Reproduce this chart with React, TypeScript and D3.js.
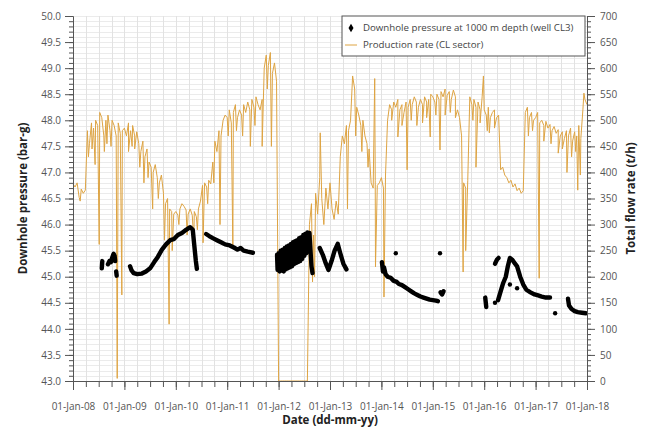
import React, { useRef, useEffect } from "react";
import * as d3 from "d3";

const W = 650;
const H = 430;
const margin = { top: 16, right: 63, bottom: 49, left: 73 };
const FONT = "'Open Sans', 'Noto Sans', sans-serif";

// Production rate (t/h), one value every 0.04 yr from 1 Jan of each year
const rate2008 = [378, 372, 380, 352, 368, 360, 366, 480, 455, 495, 485, 500, 490, 515, 505, 470, 500, 510, 480, 500, 490, 470, 495, 475, 480];
const rate2009 = [485, 470, 495, 480, 490, 470, 478, 455, 440, 460, 430, 445, 420, 410, 400, 415, 390, 380, 395, 360, 340, 350, 330, 325, 320];
const rate2010 = [325, 318, 330, 340, 335, 328, 320, 330, 318, 325, 315, 330, 345, 375, 380, 372, 385, 378, 420, 460, 440, 480, 470, 500, 510];
const rate2011 = [505, 520, 495, 515, 530, 505, 520, 510, 530, 515, 535, 520, 540, 525, 545, 530, 520, 540, 600, 625, 605, 630, 590, 610, 575];
const rate2012 = [0, 0, 0, 0, 0, 0, 0, 0, 0, 0, 0, 0, 0, 0, 0, 300, 340, 280, 360, 320, 390, 350, 300, 370, 330];
const rate2013 = [380, 330, 310, 345, 320, 430, 470, 455, 490, 480, 500, 585, 560, 525, 510, 490, 500, 470, 455, 445, 380, 370, 385, 375, 380];
const rate2014 = [390, 370, 395, 500, 530, 520, 535, 525, 540, 520, 530, 515, 535, 525, 540, 530, 545, 535, 525, 540, 530, 545, 535, 540, 550];
const rate2015 = [545, 535, 550, 540, 555, 545, 560, 548, 555, 540, 558, 545, 520, 505, 470, 380, 370, 385, 545, 530, 540, 525, 535, 520, 545];
const rate2016 = [520, 510, 525, 505, 515, 520, 505, 510, 405, 410, 395, 390, 380, 385, 372, 378, 365, 370, 360, 365, 515, 525, 505, 515, 500];
const rate2017 = [505, 515, 495, 500, 490, 498, 485, 492, 480, 488, 475, 482, 470, 478, 465, 480, 470, 485, 460, 478, 470, 490, 465, 520, 540];
const rateEnd: [number, number] = [2018.0, 530];

// single-day drops / peaks of the production rate [decimal year, t/h]
const rateSpikes: [number, number][] = [
  [2008.14, 345], [2008.43, 415], [2008.51, 262], [2008.61, 440], [2008.86, 5], [2008.95, 165],
  [2009.08, 440], [2009.38, 380], [2009.55, 330], [2009.78, 270], [2009.87, 109], [2009.93, 250],
  [2010.22, 280], [2010.35, 270], [2010.53, 265], [2010.86, 300],
  [2011.11, 257], [2011.45, 450], [2011.68, 450], [2011.86, 450],
  [2012.66, 190], [2012.7, 200], [2012.81, 476],
  [2013.34, 330], [2013.87, 580], [2013.885, 219], [2014.05, 161],
  [2014.32, 468], [2014.5, 405], [2014.69, 490], [2014.95, 468],
  [2015.14, 443], [2015.24, 510], [2015.59, 209], [2015.64, 250], [2015.84, 410], [2015.985, 585],
  [2016.1, 476], [2017.07, 197], [2017.44, 437], [2017.61, 400], [2017.82, 366], [2017.87, 395], [2017.94, 552],
];

// smaller day-to-day dips [decimal year, t/h]
const rateDips: [number, number][] = [
  [2008.3, 430], [2008.37, 445], [2008.66, 455], [2008.74, 450],
  [2009.15, 450], [2009.2, 445], [2009.3, 410], [2009.46, 390], [2009.66, 350],
  [2010.06, 300], [2010.42, 290], [2010.62, 340], [2010.74, 380],
  [2011.02, 470], [2011.18, 480], [2011.3, 470], [2011.54, 490], [2011.78, 560],
  [2013.5, 470], [2013.62, 440], [2013.74, 410],
  [2014.2, 500], [2014.4, 490], [2014.58, 500], [2014.8, 495], [2014.88, 505],
  [2015.06, 510], [2015.34, 515], [2015.44, 505], [2015.78, 500], [2015.92, 495],
  [2016.06, 480], [2016.2, 485], [2016.86, 470], [2016.94, 480],
  [2017.16, 460], [2017.3, 455], [2017.52, 445], [2017.7, 430], [2017.78, 440],
];

// Downhole pressure (bar-g), runs of readings [decimal year, bar-g]
const pressA: [number, number][] = [[2008.56, 45.16], [2008.57, 45.3]];
const pressB: [number, number][] = [[2008.68, 45.24], [2008.71, 45.3], [2008.74, 45.28], [2008.76, 45.36], [2008.79, 45.44], [2008.81, 45.4], [2008.82, 45.3]];
const pressB2: [number, number][] = [[2008.84, 45.1], [2008.85, 45.02]];
const pressC: [number, number][] = [
  [2009.11, 45.2], [2009.14, 45.12], [2009.18, 45.07], [2009.25, 45.05], [2009.34, 45.06], [2009.42, 45.1],
  [2009.5, 45.16], [2009.58, 45.28], [2009.65, 45.38], [2009.73, 45.52], [2009.81, 45.62], [2009.89, 45.7],
  [2009.96, 45.72], [2010.04, 45.8], [2010.12, 45.84], [2010.2, 45.9], [2010.28, 45.95], [2010.33, 45.9],
  [2010.36, 45.6], [2010.39, 45.3], [2010.41, 45.15],
];
const pressD: [number, number][] = [
  [2010.59, 45.82], [2010.65, 45.78], [2010.72, 45.74], [2010.8, 45.7], [2010.88, 45.66], [2010.96, 45.62],
  [2011.05, 45.6], [2011.13, 45.56], [2011.2, 45.52], [2011.26, 45.55], [2011.32, 45.5], [2011.4, 45.48], [2011.5, 45.46],
];
const pressE: [number, number][] = [
  [2011.97, 45.42], [2011.98, 45.13], [2012.0, 45.45], [2012.02, 45.1], [2012.04, 45.5], [2012.06, 45.12],
  [2012.08, 45.52], [2012.1, 45.1], [2012.12, 45.55], [2012.14, 45.14], [2012.16, 45.58], [2012.18, 45.16],
  [2012.2, 45.6], [2012.22, 45.18], [2012.24, 45.63], [2012.26, 45.2], [2012.28, 45.66], [2012.3, 45.24],
  [2012.32, 45.68], [2012.34, 45.26], [2012.36, 45.7], [2012.38, 45.28], [2012.4, 45.74], [2012.42, 45.3],
  [2012.44, 45.76], [2012.46, 45.34], [2012.48, 45.8], [2012.5, 45.4], [2012.52, 45.82], [2012.54, 45.45],
  [2012.56, 45.85], [2012.58, 45.5], [2012.6, 45.84], [2012.62, 45.5], [2012.64, 45.2], [2012.66, 45.07],
];
const pressF: [number, number][] = [
  [2012.8, 45.55], [2012.86, 45.42], [2012.92, 45.25], [2012.97, 45.13], [2013.03, 45.3], [2013.09, 45.5],
  [2013.15, 45.63], [2013.2, 45.45], [2013.26, 45.25], [2013.32, 45.14],
];
const pressG: [number, number][] = [
  [2014.01, 45.28], [2014.03, 45.1], [2014.05, 45.18], [2014.08, 45.05], [2014.12, 45.0], [2014.18, 44.98],
  [2014.24, 44.92], [2014.3, 44.9], [2014.34, 44.86], [2014.4, 44.84], [2014.46, 44.8], [2014.52, 44.76],
  [2014.58, 44.72], [2014.64, 44.68], [2014.7, 44.65], [2014.76, 44.62], [2014.82, 44.6], [2014.88, 44.58],
  [2014.94, 44.56], [2015.0, 44.55], [2015.06, 44.54], [2015.1, 44.53],
];
const pressH: [number, number][] = [[2015.15, 44.7], [2015.18, 44.66], [2015.21, 44.72]];
const pressI: [number, number][] = [[2016.02, 44.6], [2016.04, 44.42]];
const pressJ: [number, number][] = [[2016.21, 45.25], [2016.25, 45.33], [2016.28, 45.36]];
const pressK: [number, number][] = [
  [2016.27, 44.55], [2016.32, 44.72], [2016.37, 44.88], [2016.42, 45.0], [2016.46, 45.2], [2016.5, 45.36],
  [2016.55, 45.32], [2016.6, 45.25], [2016.64, 45.2], [2016.7, 45.0], [2016.76, 44.85], [2016.82, 44.75],
  [2016.9, 44.7], [2016.98, 44.66], [2017.05, 44.64], [2017.12, 44.62], [2017.2, 44.6], [2017.28, 44.6],
];
const pressL: [number, number][] = [
  [2017.63, 44.58], [2017.65, 44.45], [2017.7, 44.38], [2017.76, 44.34], [2017.82, 44.32], [2017.9, 44.31], [2017.98, 44.3],
];
const pressDots: [number, number][] = [[2014.28, 45.45], [2015.14, 45.45], [2016.21, 44.5], [2016.5, 44.85], [2016.64, 44.78], [2017.38, 44.3]];

const yearLabels = ["01-Jan-08", "01-Jan-09", "01-Jan-10", "01-Jan-11", "01-Jan-12", "01-Jan-13", "01-Jan-14", "01-Jan-15", "01-Jan-16", "01-Jan-17", "01-Jan-18"];
const legendText = ["Downhole pressure at 1000 m depth (well CL3)", "Production rate (CL sector)"];

const App: React.FC = () => {
  const svgRef = useRef<SVGSVGElement | null>(null);

  useEffect(() => {
    if (!svgRef.current) return;
    const svg = d3.select(svgRef.current);
    svg.selectAll("*").remove();

    const x0 = margin.left;
    const x1 = W - margin.right;
    const yBot = H - margin.bottom;
    const yTop = margin.top;

    const x = d3.scaleLinear().domain([2008, 2018]).range([x0, x1]);
    const yP = d3.scaleLinear().domain([43, 50]).range([yBot, yTop]);
    const yR = d3.scaleLinear().domain([0, 700]).range([yBot, yTop]);

    svg.append("rect").attr("width", W).attr("height", H).attr("fill", "#fff");

    // Grid
    const hGrid = d3.range(1, 71).map((i) => 43 + i / 10);
    const vGrid = d3.range(1, 40).map((i) => 2008 + i / 4);
    svg
      .append("g")
      .selectAll("line")
      .data(hGrid)
      .join("line")
      .attr("x1", x0)
      .attr("x2", x1)
      .attr("y1", (d) => Math.round(yP(d)) + 0.5)
      .attr("y2", (d) => Math.round(yP(d)) + 0.5)
      .attr("stroke", "#ebebeb");
    svg
      .append("g")
      .selectAll("line")
      .data(vGrid)
      .join("line")
      .attr("x1", (d) => Math.round(x(d)) + 0.5)
      .attr("x2", (d) => Math.round(x(d)) + 0.5)
      .attr("y1", yTop)
      .attr("y2", yBot)
      .attr("stroke", "#e2e2e2");

    // Production rate line
    const rateByYear = [rate2008, rate2009, rate2010, rate2011, rate2012, rate2013, rate2014, rate2015, rate2016, rate2017];
    const prod: [number, number][] = rateByYear.flatMap((vals, i) =>
      vals.map((v, j) => [2008 + i + j * 0.04, v] as [number, number])
    );
    prod.push(...rateSpikes, ...rateDips, rateEnd);
    prod.sort((a, b) => a[0] - b[0]);

    const rateLine = d3
      .line<[number, number]>()
      .x((d) => x(d[0]))
      .y((d) => yR(d[1]));
    svg
      .append("path")
      .datum(prod)
      .attr("fill", "none")
      .attr("stroke", "#dea443")
      .attr("stroke-width", 1)
      .attr("stroke-linejoin", "round")
      .attr("d", rateLine);

    // Pressure
    const pLine = d3
      .line<[number, number]>()
      .x((d) => x(d[0]))
      .y((d) => yP(d[1]));
    const segments = [pressA, pressB, pressB2, pressC, pressD, pressE, pressF, pressG, pressH, pressI, pressJ, pressK, pressL];
    svg
      .append("g")
      .selectAll("path")
      .data(segments)
      .join("path")
      .attr("fill", "none")
      .attr("stroke", "#000")
      .attr("stroke-width", 4.4)
      .attr("stroke-linejoin", "round")
      .attr("stroke-linecap", "round")
      .attr("d", (d) => pLine(d));
    svg
      .append("g")
      .selectAll("circle")
      .data(pressDots)
      .join("circle")
      .attr("cx", (d) => x(d[0]))
      .attr("cy", (d) => yP(d[1]))
      .attr("r", 2.2)
      .attr("fill", "#000");

    const styleAxis = (g: d3.Selection<SVGGElement, unknown, null, undefined>) => {
      g.select(".domain").attr("stroke", "#555");
      g.selectAll(".tick line").attr("stroke", "#555");
      g.selectAll(".tick text").attr("fill", "#555").attr("font-size", "10px").attr("font-family", FONT);
    };

    // Left axis
    const pMajor = d3.range(0, 15).map((i) => 43 + i * 0.5);
    const pMinor = d3.range(0, 71).map((i) => 43 + i / 10);
    svg
      .append("g")
      .attr("transform", `translate(${x0},0)`)
      .call(d3.axisLeft(yP).tickValues(pMinor).tickSize(4).tickFormat(() => "").tickSizeOuter(0))
      .call(styleAxis);
    svg
      .append("g")
      .attr("transform", `translate(${x0},0)`)
      .call(d3.axisLeft(yP).tickValues(pMajor).tickSize(8).tickPadding(4).tickFormat(d3.format(".1f")).tickSizeOuter(0))
      .call(styleAxis);

    // Right axis
    const rMajor = d3.range(0, 701, 50);
    const rMinor = d3.range(0, 701, 10);
    svg
      .append("g")
      .attr("transform", `translate(${x1},0)`)
      .call(d3.axisRight(yR).tickValues(rMinor).tickSize(4).tickFormat(() => "").tickSizeOuter(0))
      .call(styleAxis);
    svg
      .append("g")
      .attr("transform", `translate(${x1},0)`)
      .call(d3.axisRight(yR).tickValues(rMajor).tickSize(8).tickPadding(5).tickSizeOuter(0))
      .call(styleAxis);

    // Bottom axis
    const years = d3.range(2008, 2019);
    const quarters = d3.range(0, 41).map((i) => 2008 + i / 4);
    svg
      .append("g")
      .attr("transform", `translate(0,${yBot})`)
      .call(d3.axisBottom(x).tickValues(quarters).tickSize(6).tickFormat(() => "").tickSizeOuter(0))
      .call(styleAxis);
    svg
      .append("g")
      .attr("transform", `translate(0,${yBot})`)
      .call(
        d3
          .axisBottom(x)
          .tickValues(years)
          .tickSize(9)
          .tickPadding(13)
          .tickFormat((_, i) => yearLabels[i])
          .tickSizeOuter(0)
      )
      .call(styleAxis);

    // Axis titles
    const title = (t: string, tx: string) =>
      svg
        .append("text")
        .attr("transform", tx)
        .attr("text-anchor", "middle")
        .attr("font-family", FONT)
        .attr("font-weight", "bold")
        .attr("font-size", "11.5px")
        .attr("fill", "#222")
        .text(t);
    title("Downhole pressure (bar-g)", `translate(27,${(yTop + yBot) / 2}) rotate(-90)`);
    title("Total flow rate (t/h)", `translate(635,${(yTop + yBot) / 2}) rotate(-90)`);
    title("Date (dd-mm-yy)", `translate(${(x0 + x1) / 2},424)`);

    // Legend
    const lg = svg.append("g").attr("transform", "translate(342,16)");
    lg.append("rect").attr("width", 243).attr("height", 40).attr("fill", "#fff").attr("stroke", "#555");
    lg.append("path")
      .attr("transform", "translate(9,12)")
      .attr("d", d3.symbol(d3.symbolDiamond).size(22)())
      .attr("fill", "#000");
    lg.append("line").attr("x1", 3).attr("x2", 15).attr("y1", 29).attr("y2", 29).attr("stroke", "#dea443");
    lg.selectAll("text.lab")
      .data(legendText)
      .join("text")
      .attr("class", "lab")
      .attr("x", 21)
      .attr("y", (_, i) => 12 + i * 17)
      .attr("dominant-baseline", "middle")
      .attr("font-family", FONT)
      .attr("font-size", "9.7px")
      .attr("fill", "#444")
      .text((d) => d);
  }, []);

  return (
    <svg
      ref={svgRef}
      width={W}
      height={H}
      style={{ position: "absolute", left: 0, top: 0 }}
    />
  );
};

export default App;
